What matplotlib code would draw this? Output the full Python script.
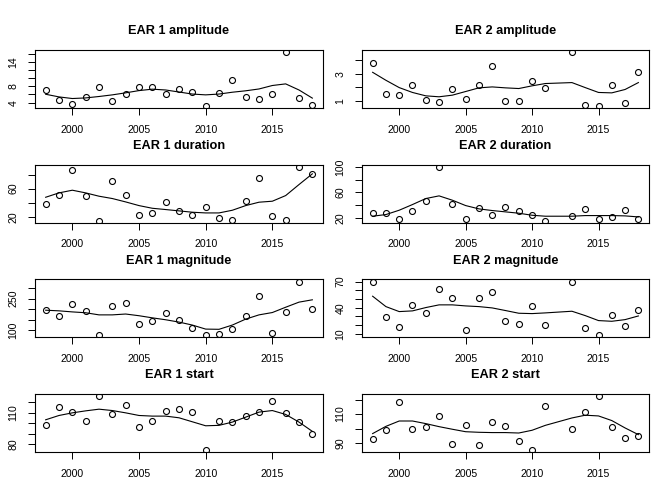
import matplotlib
matplotlib.use("Agg")
import matplotlib.pyplot as plt
import numpy as np

plt.rcParams['font.family'] = ['Liberation Sans', 'DejaVu Sans']

# years (EAR 2 has no 2012 value)
years_1 = list(range(1998, 2019))
years_2 = [y for y in years_1 if y != 2012]

# EAR 1 points and smooth line
amp_1 = [7.1, 4.7, 3.7, 5.3, 7.8, 4.3, 6.1, 7.8, 7.9, 6.1, 7.4, 6.7, 3.2, 6.4, 9.5, 5.4, 4.9, 6.0, 16.4, 5.1, 3.5]
amp_1_fit = [6.05, 5.4, 5.0, 5.15, 5.5, 5.9, 6.4, 6.95, 7.3, 7.1, 6.6, 6.1, 5.9, 6.1, 6.55, 6.9, 7.35, 8.2, 8.6, 7.1, 5.1]
dur_1 = [38.9, 51.6, 86.1, 50.2, 14.8, 70.5, 51.2, 22.8, 25.1, 41.2, 28.5, 23.3, 33.6, 18.6, 16.2, 43.1, 74.8, 20.9, 16.2, 90.9, 81.0]
dur_1_fit = [47.8, 54.0, 57.8, 54.0, 49.3, 46.0, 41.2, 36.0, 32.2, 30.4, 28.5, 26.6, 25.6, 25.6, 29.4, 36.0, 40.8, 42.2, 50.2, 65.8, 81.0]
mag_1 = [197, 167, 225, 192, 80, 214, 227, 128, 145, 180, 148, 112, 77, 83, 108, 166, 261, 89, 188, 330, 200]
mag_1_fit = [195, 192, 187, 183, 173, 173, 177, 169, 159, 150, 139, 125, 106, 105, 125, 153, 173, 184, 209, 233, 244]
start_1 = [98.6, 115.3, 110.6, 102.1, 125.7, 109.0, 117.5, 96.7, 102.4, 112.1, 114.0, 110.6, 74.6, 102.1, 101.1, 106.5, 110.6, 121.0, 109.3, 100.8, 89.8]
start_1_fit = [103.3, 107.4, 109.9, 111.8, 113.4, 112.1, 109.9, 107.4, 106.8, 106.8, 105.2, 101.4, 97.6, 98.0, 101.1, 105.8, 110.6, 112.1, 108.4, 101.1, 92.3]

# EAR 2 points and smooth line
amp_2 = [3.79, 1.51, 1.40, 2.18, 1.05, 0.90, 1.84, 1.15, 2.18, 3.60, 1.0, 1.02, 2.50, 1.93, 4.6, 0.68, 0.63, 2.2, 0.85, 3.11]
amp_2_fit = [3.11, 2.52, 1.98, 1.62, 1.37, 1.30, 1.42, 1.69, 1.96, 2.03, 1.96, 1.91, 2.11, 2.28, 2.35, 1.98, 1.62, 1.59, 1.84, 2.35]
dur_2 = [27.3, 27.8, 18.9, 30.4, 47.1, 100.0, 41.4, 18.4, 35.1, 24.7, 36.7, 30.4, 25.2, 15.8, 23.1, 34.1, 18.9, 21.5, 32.0, 18.9]
dur_2_fit = [22.6, 25.2, 32.0, 40.9, 50.3, 54.5, 47.7, 39.3, 34.1, 31.5, 29.4, 27.3, 24.1, 22.6, 22.6, 23.6, 23.6, 23.6, 23.1, 21.5]
mag_2 = [69.2, 29.1, 17.6, 43.6, 33.7, 62.0, 50.9, 14.6, 51.3, 58.5, 25.3, 21.1, 42.5, 20.3, 70.0, 16.5, 8.5, 31.8, 18.8, 37.9]
mag_2_fit = [53.2, 41.3, 35.6, 36.4, 40.2, 43.3, 43.3, 42.1, 41.3, 39.8, 36.8, 33.7, 33.3, 34.1, 36.0, 31.0, 25.3, 24.5, 26.4, 30.6]
start_2 = [93.0, 99.2, 118.4, 99.5, 101.3, 108.7, 89.1, 102.5, 88.8, 104.3, 102.0, 91.4, 85.2, 115.6, 99.5, 111.2, 122.3, 101.1, 93.7, 94.6]
start_2_fit = [96.5, 101.5, 105.2, 105.2, 103.4, 101.3, 99.5, 97.8, 97.4, 97.2, 97.2, 96.9, 98.8, 102.2, 107.3, 109.2, 108.7, 105.5, 100.4, 95.8]

# y ticks as drawn by R (some labels dropped for overlap)
yticks = {
    "EAR 1 amplitude": ([4, 6, 8, 10, 12, 14, 16], ["4", "", "8", "", "", "14", ""]),
    "EAR 2 amplitude": ([1, 2, 3, 4], ["1", "", "3", ""]),
    "EAR 1 duration": ([20, 40, 60, 80], ["20", "", "60", ""]),
    "EAR 2 duration": ([20, 40, 60, 80, 100], ["20", "", "60", "", "100"]),
    "EAR 1 magnitude": ([100, 150, 200, 250, 300], ["100", "", "", "250", ""]),
    "EAR 2 magnitude": ([10, 20, 30, 40, 50, 60, 70], ["10", "", "", "40", "", "", "70"]),
    "EAR 1 start": ([80, 90, 100, 110, 120], ["80", "", "", "110", ""]),
    "EAR 2 start": ([90, 100, 110, 120], ["90", "", "110", ""]),
}
xticks = [2000, 2005, 2010, 2015]

panels = [
    ("EAR 1 amplitude", years_1, amp_1, amp_1_fit),
    ("EAR 2 amplitude", years_2, amp_2, amp_2_fit),
    ("EAR 1 duration", years_1, dur_1, dur_1_fit),
    ("EAR 2 duration", years_2, dur_2, dur_2_fit),
    ("EAR 1 magnitude", years_1, mag_1, mag_1_fit),
    ("EAR 2 magnitude", years_2, mag_2, mag_2_fit),
    ("EAR 1 start", years_1, start_1, start_1_fit),
    ("EAR 2 start", years_2, start_2, start_2_fit),
]

W, H = 672, 480
fig = plt.figure(figsize=(W / 100, H / 100), dpi=100)

col_left = [35, 362]
col_width = [288, 287]
row_top0 = 50
row_pitch = 114.7
box_h = 58

for i, (title, yrs, pts, fit) in enumerate(panels):
    r, c = divmod(i, 2)
    top = row_top0 + r * row_pitch
    ax = fig.add_axes([col_left[c] / W, 1 - (top + box_h) / H, col_width[c] / W, box_h / H])
    ax.plot(yrs, pts, 'o', mfc='none', mec='black', ms=4.3, mew=0.8)
    ax.plot(yrs, fit, '-', color='black', lw=0.8)
    ax.set_xlim(1997.2, 2018.8)
    lo, hi = min(pts), max(pts)
    pad = 0.04 * (hi - lo)
    ax.set_ylim(lo - pad, hi + pad)
    ax.set_xticks(xticks)
    ticks, labels = yticks[title]
    ax.set_yticks(ticks)
    ax.set_yticklabels(labels, rotation=90, va='center')
    ax.tick_params(direction='out', length=5, width=0.7, labelsize=7.6, pad=7, colors='black')
    for s in ax.spines.values():
        s.set_linewidth(0.8)
    ax.set_title(title, fontsize=9.2, fontweight='bold', pad=11.3)

fig.savefig("out.png", dpi=100)
